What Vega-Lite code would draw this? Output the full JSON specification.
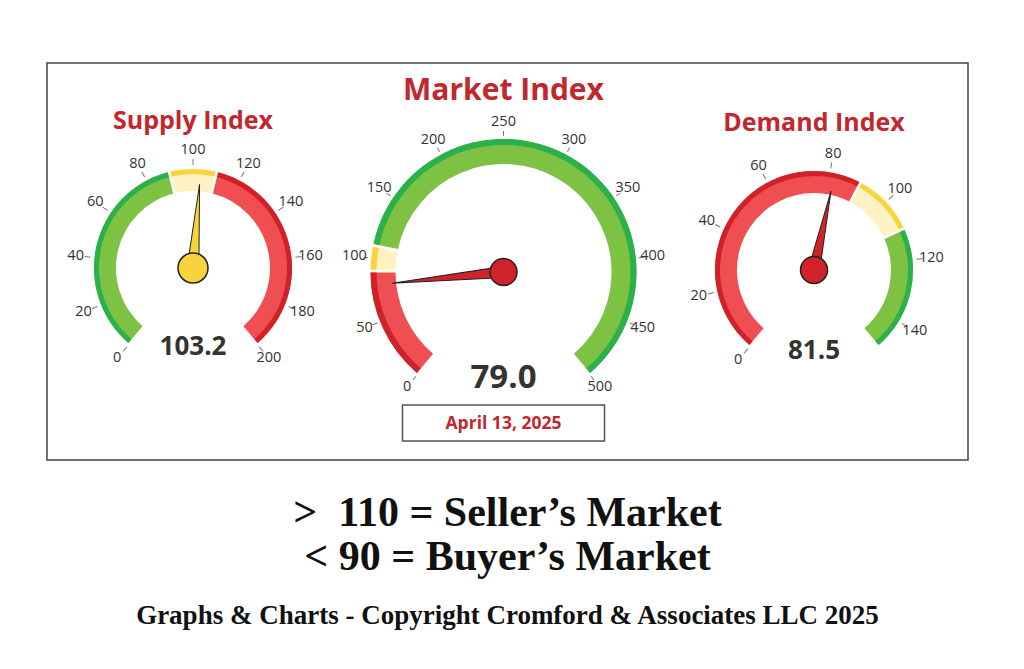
{
  "$schema": "https://vega.github.io/schema/vega-lite/v6.json",
  "width": 921,
  "height": 397,
  "padding": {"left": 47, "top": 63, "right": 56, "bottom": 5},
  "autosize": {"type": "pad"},
  "background": "white",
  "title": {
    "text": ["> \u00a0110 = Seller\u2019s Market", "< 90 = Buyer\u2019s Market"],
    "subtitle": "Graphs & Charts - Copyright Cromford & Associates LLC 2025",
    "orient": "bottom",
    "anchor": "middle",
    "offset": 33,
    "font": "Liberation Serif",
    "fontSize": 42,
    "fontWeight": "bold",
    "color": "#111",
    "lineHeight": 44,
    "subtitleFont": "Liberation Serif",
    "subtitleFontSize": 27,
    "subtitleFontWeight": "bold",
    "subtitleColor": "#111",
    "subtitlePadding": 24
  },
  "datasets": {
    "gauges": [
      {"gauge": "Supply Index", "value": 103.2},
      {"gauge": "Market Index", "value": 79.0, "date": "April 13, 2025"},
      {"gauge": "Demand Index", "value": 81.5}
    ],
    "zones": [
      {"gauge": "Supply Index", "start": 0, "end": 90, "favors": "Sellers"},
      {"gauge": "Supply Index", "start": 90, "end": 110, "favors": "Neutral"},
      {"gauge": "Supply Index", "start": 110, "end": 200, "favors": "Buyers"},
      {"gauge": "Market Index", "start": 0, "end": 90, "favors": "Buyers"},
      {"gauge": "Market Index", "start": 90, "end": 110, "favors": "Neutral"},
      {"gauge": "Market Index", "start": 110, "end": 500, "favors": "Sellers"},
      {"gauge": "Demand Index", "start": 0, "end": 90, "favors": "Buyers"},
      {"gauge": "Demand Index", "start": 90, "end": 110, "favors": "Neutral"},
      {"gauge": "Demand Index", "start": 110, "end": 150, "favors": "Sellers"}
    ],
    "ticks": [
      {"gauge": "Supply Index", "tick": 0},
      {"gauge": "Supply Index", "tick": 20},
      {"gauge": "Supply Index", "tick": 40},
      {"gauge": "Supply Index", "tick": 60},
      {"gauge": "Supply Index", "tick": 80},
      {"gauge": "Supply Index", "tick": 100},
      {"gauge": "Supply Index", "tick": 120},
      {"gauge": "Supply Index", "tick": 140},
      {"gauge": "Supply Index", "tick": 160},
      {"gauge": "Supply Index", "tick": 180},
      {"gauge": "Supply Index", "tick": 200},
      {"gauge": "Market Index", "tick": 0},
      {"gauge": "Market Index", "tick": 50},
      {"gauge": "Market Index", "tick": 100},
      {"gauge": "Market Index", "tick": 150},
      {"gauge": "Market Index", "tick": 200},
      {"gauge": "Market Index", "tick": 250},
      {"gauge": "Market Index", "tick": 300},
      {"gauge": "Market Index", "tick": 350},
      {"gauge": "Market Index", "tick": 400},
      {"gauge": "Market Index", "tick": 450},
      {"gauge": "Market Index", "tick": 500},
      {"gauge": "Demand Index", "tick": 0},
      {"gauge": "Demand Index", "tick": 20},
      {"gauge": "Demand Index", "tick": 40},
      {"gauge": "Demand Index", "tick": 60},
      {"gauge": "Demand Index", "tick": 80},
      {"gauge": "Demand Index", "tick": 100},
      {"gauge": "Demand Index", "tick": 120},
      {"gauge": "Demand Index", "tick": 140}
    ]
  },
  "encoding": {
    "x": {
      "field": "gauge",
      "type": "nominal",
      "scale": {"type": "point", "domain": ["Supply Index", "Market Index", "Demand Index"], "range": [146, 767], "padding": 0},
      "axis": null
    },
    "y": {
      "field": "gauge",
      "type": "nominal",
      "scale": {"type": "point", "domain": ["Supply Index", "Demand Index", "Market Index"], "range": [205, 209], "padding": 0},
      "axis": null
    }
  },
  "layer": [
    {
      "layer": [
        {
          "data": {"name": "zones"},
          "transform": [{"filter": "datum.gauge === 'Supply Index'"}],
          "mark": {"type": "arc", "innerRadius": 77, "outerRadius": 99, "padAngle": 0.02},
          "encoding": {
            "theta": {"field": "start", "type": "quantitative", "stack": null, "scale": {"domain": [0, 200], "range": [-2.4435, 2.4435]}},
            "theta2": {"field": "end"},
            "fill": {"field": "favors", "type": "nominal", "scale": {"domain": ["Sellers", "Neutral", "Buyers"], "range": ["#7dc243", "#fff2c2", "#ef4e53"]}, "legend": null}
          }
        },
        {
          "data": {"name": "zones"},
          "transform": [{"filter": "datum.gauge === 'Supply Index'"}],
          "mark": {"type": "arc", "innerRadius": 94, "outerRadius": 99, "padAngle": 0.02},
          "encoding": {
            "theta": {"field": "start", "type": "quantitative", "stack": null},
            "theta2": {"field": "end"},
            "color": {"field": "favors", "type": "nominal", "scale": {"domain": ["Sellers", "Neutral", "Buyers"], "range": ["#2bb14b", "#f8d43e", "#d02129"]}, "legend": null}
          }
        },
        {
          "data": {"name": "ticks"},
          "transform": [{"filter": "datum.gauge === 'Supply Index'"}],
          "mark": {"type": "point", "shape": "M0,-1L0,-0.945", "size": 47524, "filled": false, "stroke": "#777", "strokeWidth": 1, "opacity": 1},
          "encoding": {
            "angle": {"field": "tick", "type": "quantitative", "scale": {"domain": [0, 200], "range": [-140, 140]}}
          }
        },
        {
          "data": {"name": "ticks"},
          "transform": [{"filter": "datum.gauge === 'Supply Index'"}],
          "mark": {"type": "text", "radius": 118, "fontSize": 14.5, "color": "#333", "font": "Open Sans"},
          "encoding": {
            "theta": {"field": "tick", "type": "quantitative"},
            "text": {"field": "tick", "type": "quantitative"}
          }
        },
        {
          "data": {"name": "gauges"},
          "transform": [{"filter": "datum.gauge === 'Supply Index'"}],
          "mark": {"type": "point", "shape": "M-0.07,0L0,-1L0.07,0Z", "size": 28224, "filled": true, "fill": "#f8d33c", "stroke": "#222", "strokeWidth": 1, "opacity": 1},
          "encoding": {
            "angle": {"field": "value", "type": "quantitative"}
          }
        },
        {
          "data": {"name": "gauges"},
          "transform": [{"filter": "datum.gauge === 'Supply Index'"}],
          "mark": {"type": "point", "shape": "circle", "size": 900, "filled": true, "fill": "#f8d33c", "stroke": "#222", "strokeWidth": 1.5, "opacity": 1}
        },
        {
          "data": {"name": "gauges"},
          "transform": [{"filter": "datum.gauge === 'Supply Index'"}],
          "mark": {"type": "text", "dy": 79, "fontSize": 26, "fontWeight": "bold", "color": "#333", "font": "Open Sans"},
          "encoding": {"text": {"field": "value", "type": "quantitative", "format": ".1f"}}
        },
        {
          "data": {"name": "gauges"},
          "transform": [{"filter": "datum.gauge === 'Supply Index'"}],
          "mark": {"type": "text", "dy": -147, "fontSize": 25, "fontWeight": "bold", "color": "#c1272d", "font": "Open Sans"},
          "encoding": {"text": {"field": "gauge", "type": "nominal"}}
        }
      ]
    },
    {
      "layer": [
        {
          "data": {"name": "zones"},
          "transform": [{"filter": "datum.gauge === 'Market Index'"}],
          "mark": {"type": "arc", "innerRadius": 108, "outerRadius": 133, "padAngle": 0.016},
          "encoding": {
            "theta": {"field": "start", "type": "quantitative", "stack": null, "scale": {"domain": [0, 500], "range": [-2.4435, 2.4435]}},
            "theta2": {"field": "end"},
            "fill": {"field": "favors", "type": "nominal", "legend": null}
          }
        },
        {
          "data": {"name": "zones"},
          "transform": [{"filter": "datum.gauge === 'Market Index'"}],
          "mark": {"type": "arc", "innerRadius": 127, "outerRadius": 133, "padAngle": 0.016},
          "encoding": {
            "theta": {"field": "start", "type": "quantitative", "stack": null},
            "theta2": {"field": "end"},
            "color": {"field": "favors", "type": "nominal", "legend": null}
          }
        },
        {
          "data": {"name": "ticks"},
          "transform": [{"filter": "datum.gauge === 'Market Index'"}],
          "mark": {"type": "point", "shape": "M0,-1L0,-0.965", "size": 79524, "filled": false, "stroke": "#777", "strokeWidth": 1, "opacity": 1},
          "encoding": {
            "angle": {"field": "tick", "type": "quantitative", "scale": {"domain": [0, 500], "range": [-140, 140]}}
          }
        },
        {
          "data": {"name": "ticks"},
          "transform": [{"filter": "datum.gauge === 'Market Index'"}],
          "mark": {"type": "text", "radius": 150, "fontSize": 14.5, "color": "#333", "font": "Open Sans"},
          "encoding": {
            "theta": {"field": "tick", "type": "quantitative"},
            "text": {"field": "tick", "type": "quantitative"}
          }
        },
        {
          "data": {"name": "gauges"},
          "transform": [{"filter": "datum.gauge === 'Market Index'"}],
          "mark": {"type": "point", "shape": "M-0.05,0L0,-1L0.05,0Z", "size": 50176, "filled": true, "fill": "#d12229", "stroke": "#222", "strokeWidth": 1, "opacity": 1},
          "encoding": {
            "angle": {"field": "value", "type": "quantitative"}
          }
        },
        {
          "data": {"name": "gauges"},
          "transform": [{"filter": "datum.gauge === 'Market Index'"}],
          "mark": {"type": "point", "shape": "circle", "size": 729, "filled": true, "fill": "#d12229", "stroke": "#222", "strokeWidth": 1.5, "opacity": 1}
        },
        {
          "data": {"name": "gauges"},
          "transform": [{"filter": "datum.gauge === 'Market Index'"}],
          "mark": {"type": "text", "dy": 106, "fontSize": 33, "fontWeight": "bold", "color": "#333", "font": "Open Sans"},
          "encoding": {"text": {"field": "value", "type": "quantitative", "format": ".1f"}}
        },
        {
          "data": {"name": "gauges"},
          "transform": [{"filter": "datum.gauge === 'Market Index'"}],
          "mark": {"type": "text", "dy": -181, "fontSize": 30, "fontWeight": "bold", "color": "#c1272d", "font": "Open Sans"},
          "encoding": {"text": {"field": "gauge", "type": "nominal"}}
        },
        {
          "data": {"name": "gauges"},
          "transform": [{"filter": "datum.gauge === 'Market Index'"}],
          "mark": {"type": "point", "shape": "M-1,1.317L1,1.317L1,1.673L-1,1.673Z", "size": 40804, "filled": false, "stroke": "#555", "strokeWidth": 1.5, "opacity": 1}
        },
        {
          "data": {"name": "gauges"},
          "transform": [{"filter": "datum.gauge === 'Market Index'"}],
          "mark": {"type": "text", "dy": 152, "fontSize": 17.5, "fontWeight": "bold", "color": "#c1272d", "font": "Open Sans"},
          "encoding": {"text": {"field": "date", "type": "nominal"}}
        }
      ]
    },
    {
      "layer": [
        {
          "data": {"name": "zones"},
          "transform": [{"filter": "datum.gauge === 'Demand Index'"}],
          "mark": {"type": "arc", "innerRadius": 77, "outerRadius": 99, "padAngle": 0.02},
          "encoding": {
            "theta": {"field": "start", "type": "quantitative", "stack": null, "scale": {"domain": [0, 150], "range": [-2.4435, 2.4435]}},
            "theta2": {"field": "end"},
            "fill": {"field": "favors", "type": "nominal", "legend": null}
          }
        },
        {
          "data": {"name": "zones"},
          "transform": [{"filter": "datum.gauge === 'Demand Index'"}],
          "mark": {"type": "arc", "innerRadius": 94, "outerRadius": 99, "padAngle": 0.02},
          "encoding": {
            "theta": {"field": "start", "type": "quantitative", "stack": null},
            "theta2": {"field": "end"},
            "color": {"field": "favors", "type": "nominal", "legend": null}
          }
        },
        {
          "data": {"name": "ticks"},
          "transform": [{"filter": "datum.gauge === 'Demand Index'"}],
          "mark": {"type": "point", "shape": "M0,-1L0,-0.945", "size": 47524, "filled": false, "stroke": "#777", "strokeWidth": 1, "opacity": 1},
          "encoding": {
            "angle": {"field": "tick", "type": "quantitative", "scale": {"domain": [0, 150], "range": [-140, 140]}}
          }
        },
        {
          "data": {"name": "ticks"},
          "transform": [{"filter": "datum.gauge === 'Demand Index'"}],
          "mark": {"type": "text", "radius": 118, "fontSize": 14.5, "color": "#333", "font": "Open Sans"},
          "encoding": {
            "theta": {"field": "tick", "type": "quantitative"},
            "text": {"field": "tick", "type": "quantitative"}
          }
        },
        {
          "data": {"name": "gauges"},
          "transform": [{"filter": "datum.gauge === 'Demand Index'"}],
          "mark": {"type": "point", "shape": "M-0.07,0L0,-1L0.07,0Z", "size": 26244, "filled": true, "fill": "#d12229", "stroke": "#222", "strokeWidth": 1, "opacity": 1},
          "encoding": {
            "angle": {"field": "value", "type": "quantitative"}
          }
        },
        {
          "data": {"name": "gauges"},
          "transform": [{"filter": "datum.gauge === 'Demand Index'"}],
          "mark": {"type": "point", "shape": "circle", "size": 729, "filled": true, "fill": "#d12229", "stroke": "#222", "strokeWidth": 1.5, "opacity": 1}
        },
        {
          "data": {"name": "gauges"},
          "transform": [{"filter": "datum.gauge === 'Demand Index'"}],
          "mark": {"type": "text", "dy": 81, "fontSize": 26, "fontWeight": "bold", "color": "#333", "font": "Open Sans"},
          "encoding": {"text": {"field": "value", "type": "quantitative", "format": ".1f"}}
        },
        {
          "data": {"name": "gauges"},
          "transform": [{"filter": "datum.gauge === 'Demand Index'"}],
          "mark": {"type": "text", "dy": -147, "fontSize": 25, "fontWeight": "bold", "color": "#c1272d", "font": "Open Sans"},
          "encoding": {"text": {"field": "gauge", "type": "nominal"}}
        }
      ]
    }
  ],
  "resolve": {"scale": {"theta": "independent", "angle": "independent"}},
  "config": {
    "view": {"stroke": "#444", "strokeWidth": 1.5},
    "font": "Open Sans"
  }
}
